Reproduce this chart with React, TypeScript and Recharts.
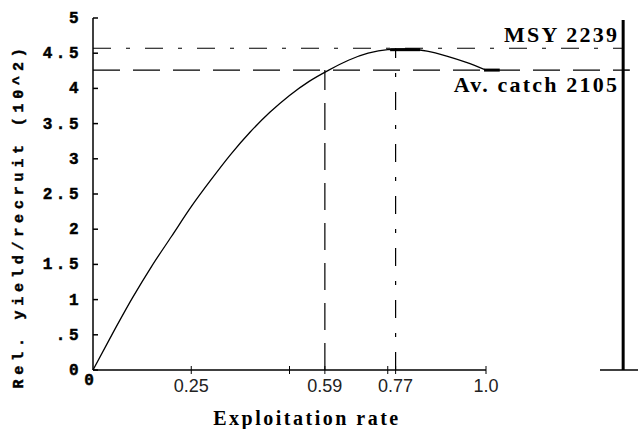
import React from 'react';
import { LineChart, Line, XAxis, YAxis, ReferenceLine, Label } from 'recharts';

// exploitation rate (E) vs relative yield per recruit (x 10^2)
const rates = [0, 0.05, 0.1, 0.15, 0.2, 0.25, 0.3, 0.35, 0.4, 0.45, 0.5, 0.55, 0.6, 0.65, 0.7, 0.75, 0.8, 0.85, 0.9, 0.95, 1.0];
const yieldPerRecruit = [0, 0.52, 1.02, 1.48, 1.9, 2.32, 2.7, 3.06, 3.38, 3.66, 3.9, 4.1, 4.26, 4.4, 4.5, 4.55, 4.56, 4.53, 4.46, 4.37, 4.26];

const yTicks = [0, 0.5, 1, 1.5, 2, 2.5, 3, 3.5, 4, 4.5, 5];
const yTickLabels = ['0', '.5', '1', '1.5', '2', '2.5', '3', '3.5', '4', '4.5', '5'];
const xTicks = [0, 0.25, 0.5, 0.59, 0.75, 0.77, 1.0];
const xTickLabels = ['0', '0.25', '', '0.59', '', '0.77', '1.0'];

const msyLevel = 4.57;
const msyLabel = 'MSY 2239';
const msyRate = 0.77;
const avCatchLevel = 4.26;
const avCatchLabel = 'Av. catch 2105';
const avCatchRate = 0.59;

// right-hand bracket, in data units (outside the plotted domain)
const bracketX = 1.349;
const bracketTop = 4.97;

const data = rates.map((e, i) => ({ e, y: yieldPerRecruit[i] }));

const mono = '"Liberation Mono", "DejaVu Sans Mono", monospace';
const serif = '"Liberation Serif", "Times New Roman", serif';
const sans = '"Liberation Sans", Arial, sans-serif';

const YTick = (props: any) => {
  const { x, y, index } = props;
  const axisX = x + 14; // tickSize 6 + tickMargin 8
  return (
    <g>
      <line x1={axisX} x2={axisX + 5} y1={y} y2={y} stroke="#000" strokeWidth={1.5} />
      <text x={x + 3} y={y + 5} textAnchor="end" fontFamily={mono} fontWeight="bold" fontSize={16} letterSpacing={3.5} fill="#000" stroke="#000" strokeWidth={0.5}>
        {yTickLabels[index]}
      </text>
    </g>
  );
};

const XTick = (props: any) => {
  const { x, y, index } = props;
  const axisY = y - 10; // tickSize 4 + tickMargin 6
  const label = xTickLabels[index];
  const first = index === 0;
  return (
    <g>
      {!first && <line x1={x} x2={x} y1={axisY - 4} y2={axisY + 4} stroke="#000" strokeWidth={1} />}
      {first ? (
        <text x={x - 4} y={axisY + 15} textAnchor="middle" fontFamily={mono} fontWeight="bold" fontSize={16} fill="#000" stroke="#000" strokeWidth={0.5}>
          {label}
        </text>
      ) : (
        <text x={x} y={axisY + 22} textAnchor="middle" fontFamily={sans} fontSize={18} fill="#222">
          {label}
        </text>
      )}
    </g>
  );
};

export default function App() {
  return (
    <div style={{ width: 638, height: 429, background: '#fff' }}>
      <style>{`body{margin:0}`}</style>
      <LineChart width={638} height={429} data={data} margin={{ top: 18, right: 152, bottom: 29, left: 0 }}>
        <XAxis
          dataKey="e"
          type="number"
          domain={[0, 1]}
          ticks={xTicks}
          interval={0}
          tickSize={4}
          tickMargin={6}
          tickLine={false}
          tick={<XTick />}
          height={30}
          axisLine={{ stroke: '#000', strokeWidth: 1.5 }}
        >
          <Label
            content={({ viewBox }: any) => (
              <text x={307} y={viewBox.y + 55} textAnchor="middle" fontFamily={serif} fontWeight="bold" fontSize={20} letterSpacing={2.5} fill="#000">
                Exploitation rate
              </text>
            )}
          />
        </XAxis>
        <YAxis
          type="number"
          domain={[0, 5]}
          ticks={yTicks}
          interval={0}
          width={93}
          tickSize={6}
          tickMargin={8}
          tickLine={false}
          tick={<YTick />}
          axisLine={{ stroke: '#000', strokeWidth: 1.5 }}
        >
          <Label
            content={({ viewBox }: any) => {
              const cx = viewBox.x + 19;
              const cy = viewBox.y + viewBox.height / 2 + 22;
              return (
                <text x={cx} y={cy} transform={`rotate(-90 ${cx} ${cy})`} textAnchor="middle" dominantBaseline="central" fontFamily={mono} fontWeight="bold" fontSize={15} letterSpacing={4.8} fill="#000" stroke="#000" strokeWidth={0.45}>
                  Rel. yield/recruit (10^2)
                </text>
              );
            }}
          />
        </YAxis>

        {/* MSY and average catch levels */}
        <ReferenceLine
          segment={[{ x: 0, y: msyLevel }, { x: bracketX, y: msyLevel }]}
          ifOverflow="visible"
          stroke="#000"
          strokeWidth={1.2}
          strokeDasharray="18 15 4 15"
          label={({ viewBox }: any) => (
            <text x={viewBox.x + viewBox.width - 4} y={viewBox.y - 6} textAnchor="end" fontFamily={serif} fontWeight="bold" fontSize={22} letterSpacing={2.2} fill="#000">
              {msyLabel}
            </text>
          )}
        />
        <ReferenceLine
          segment={[{ x: 0, y: avCatchLevel }, { x: bracketX, y: avCatchLevel }]}
          ifOverflow="visible"
          stroke="#000"
          strokeWidth={1.2}
          strokeDasharray="27 13"
          label={({ viewBox }: any) => (
            <text x={viewBox.x + viewBox.width - 4} y={viewBox.y + 22} textAnchor="end" fontFamily={serif} fontWeight="bold" fontSize={22} letterSpacing={2.2} fill="#000">
              {avCatchLabel}
            </text>
          )}
        />
        <ReferenceLine
          segment={[{ x: avCatchRate, y: 0 }, { x: avCatchRate, y: avCatchLevel }]}
          ifOverflow="visible"
          stroke="#000"
          strokeWidth={1.2}
          strokeDasharray="27 13"
        />
        <ReferenceLine
          segment={[{ x: msyRate, y: 0 }, { x: msyRate, y: msyLevel }]}
          ifOverflow="visible"
          stroke="#000"
          strokeWidth={1.2}
          strokeDasharray="18 15 4 15"
        />

        {/* right bracket */}
        <ReferenceLine segment={[{ x: bracketX, y: 0 }, { x: bracketX, y: bracketTop }]} ifOverflow="visible" stroke="#000" strokeWidth={3} />
        <ReferenceLine segment={[{ x: 1.29, y: 0 }, { x: 1.4, y: 0 }]} ifOverflow="visible" stroke="#000" strokeWidth={1.5} />
        <ReferenceLine segment={[{ x: bracketX, y: avCatchLevel }, { x: 1.366, y: avCatchLevel }]} ifOverflow="visible" stroke="#000" strokeWidth={1.5} />

        {/* thick marks at MSY and at the end of the curve */}
        <ReferenceLine segment={[{ x: 0.756, y: 4.55 }, { x: 0.832, y: 4.55 }]} ifOverflow="visible" stroke="#000" strokeWidth={3} />
        <ReferenceLine segment={[{ x: 0.995, y: avCatchLevel }, { x: 1.035, y: avCatchLevel }]} ifOverflow="visible" stroke="#000" strokeWidth={3} />

        <Line type="monotone" dataKey="y" stroke="#000" strokeWidth={1.3} dot={false} isAnimationActive={false} />
      </LineChart>
    </div>
  );
}
